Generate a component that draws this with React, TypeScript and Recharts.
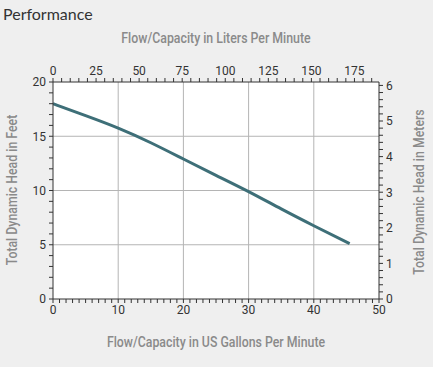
import React from 'react';
import { LineChart, Line, XAxis, YAxis, CartesianGrid } from 'recharts';

// pump curve (US gallons per minute vs feet of head)
const flowGpm = [0, 5, 10, 15, 20, 25, 30, 35, 40, 45.5];
const headFt = [18, 16.9, 15.75, 14.4, 12.9, 11.4, 9.9, 8.3, 6.75, 5.1];

const gpmLabels = [0, 10, 20, 30, 40, 50];
const ftLabels = [0, 5, 10, 15, 20];
const lpmLabels = [0, 25, 50, 75, 100, 125, 150, 175];
const meterLabels = [0, 1, 2, 3, 4, 5, 6];
const gridGpm = [10, 20, 30, 40];
const gridFt = [5, 10, 15];

const LPM_PER_GPM = 3.785;
const M_PER_FT = 0.3048;

const minorTicks = (max: number, step: number) => {
  const out: number[] = [];
  for (let i = 0; i * step <= max + 1e-9; i++) out.push(Math.round(i * step * 100) / 100);
  return out;
};

const data = flowGpm.map((g, i) => ({ gpm: g, lpm: g * LPM_PER_GPM, ft: headFt[i], m: headFt[i] * M_PER_FT }));

const TICK_FONT = 'Roboto, sans-serif';

function labelTick(labels: number[], side: 'top' | 'bottom' | 'left' | 'right') {
  return (props: any) => {
    const { x, y, payload } = props;
    const v = payload.value;
    if (!labels.some((l) => Math.abs(l - v) < 1e-6)) return <g />;
    const anchor = side === 'left' ? 'end' : side === 'right' ? 'start' : 'middle';
    const dy = side === 'bottom' ? '0.71em' : side === 'top' ? '0' : '0.36em';
    return (
      <text x={x} y={y} dy={dy} textAnchor={anchor} fill="#333" fontSize={12} fontFamily={TICK_FONT}>
        {Math.round(v)}
      </text>
    );
  };
}

const titleStyle: React.CSSProperties = {
  position: 'absolute',
  color: '#8a8a8a',
  fontFamily: 'Roboto, sans-serif',
  fontSize: 14,
  fontWeight: 500,
  whiteSpace: 'nowrap',
  lineHeight: '16px',
};

export default function App() {
  return (
    <div style={{ position: 'absolute', left: 0, top: 0, width: 433, height: 367, background: '#efefef', overflow: 'hidden' }}>
      <div style={{ position: 'absolute', left: 3, top: 4, fontFamily: 'Lato, sans-serif', fontSize: 16, color: '#333' }}>
        Performance
      </div>
      <div style={{ ...titleStyle, left: 216, top: 30, transform: 'translateX(-50%) scaleX(0.88)' }}>
        Flow/Capacity in Liters Per Minute
      </div>
      <div style={{ ...titleStyle, left: 216, top: 334, transform: 'translateX(-50%) scaleX(0.88)' }}>
        Flow/Capacity in US Gallons Per Minute
      </div>
      <div style={{ ...titleStyle, left: 12, top: 190, transform: 'translate(-50%, -50%) rotate(-90deg) scaleX(0.88)' }}>
        Total Dynamic Head in Feet
      </div>
      <div style={{ ...titleStyle, left: 419, top: 192, transform: 'translate(-50%, -50%) rotate(-90deg) scaleX(0.88)' }}>
        Total Dynamic Head in Meters
      </div>
      <div style={{ position: 'absolute', left: 0, top: 0 }}>
        <LineChart width={433} height={367} data={data} margin={{ top: 0, right: 0, bottom: 0, left: 0 }}>
          <CartesianGrid
            xAxisId="gpm"
            yAxisId="ft"
            fill="#fff"
            stroke="#b4b4b4"
            verticalValues={gridGpm}
            horizontalValues={gridFt}
          />
          <XAxis
            xAxisId="gpm"
            dataKey="gpm"
            type="number"
            orientation="bottom"
            domain={[0, 50]}
            allowDataOverflow
            ticks={minorTicks(50, 1)}
            interval={0}
            height={68}
            tickSize={4}
            tickMargin={2}
            stroke="#333"
            tick={labelTick(gpmLabels, 'bottom')}
          />
          <XAxis
            xAxisId="lpm"
            dataKey="lpm"
            type="number"
            orientation="top"
            domain={[0, 50 * LPM_PER_GPM]}
            allowDataOverflow
            ticks={minorTicks(185, 5)}
            interval={0}
            height={82}
            tickSize={4}
            tickMargin={3}
            stroke="#333"
            tick={labelTick(lpmLabels, 'top')}
          />
          <YAxis
            yAxisId="ft"
            dataKey="ft"
            type="number"
            orientation="left"
            domain={[0, 20]}
            allowDataOverflow
            ticks={minorTicks(20, 1)}
            interval={0}
            width={53}
            tickSize={4}
            tickMargin={3}
            stroke="#333"
            tick={labelTick(ftLabels, 'left')}
          />
          <YAxis
            yAxisId="m"
            dataKey="m"
            type="number"
            orientation="right"
            domain={[0, 20 * M_PER_FT]}
            allowDataOverflow
            ticks={minorTicks(6, 0.2)}
            interval={0}
            width={54}
            tickSize={4}
            tickMargin={3}
            stroke="#333"
            tick={labelTick(meterLabels, 'right')}
          />
          <Line
            xAxisId="gpm"
            yAxisId="ft"
            dataKey="ft"
            type="natural"
            stroke="#3e6f78"
            strokeWidth={3}
            dot={false}
            isAnimationActive={false}
          />
        </LineChart>
      </div>
    </div>
  );
}
